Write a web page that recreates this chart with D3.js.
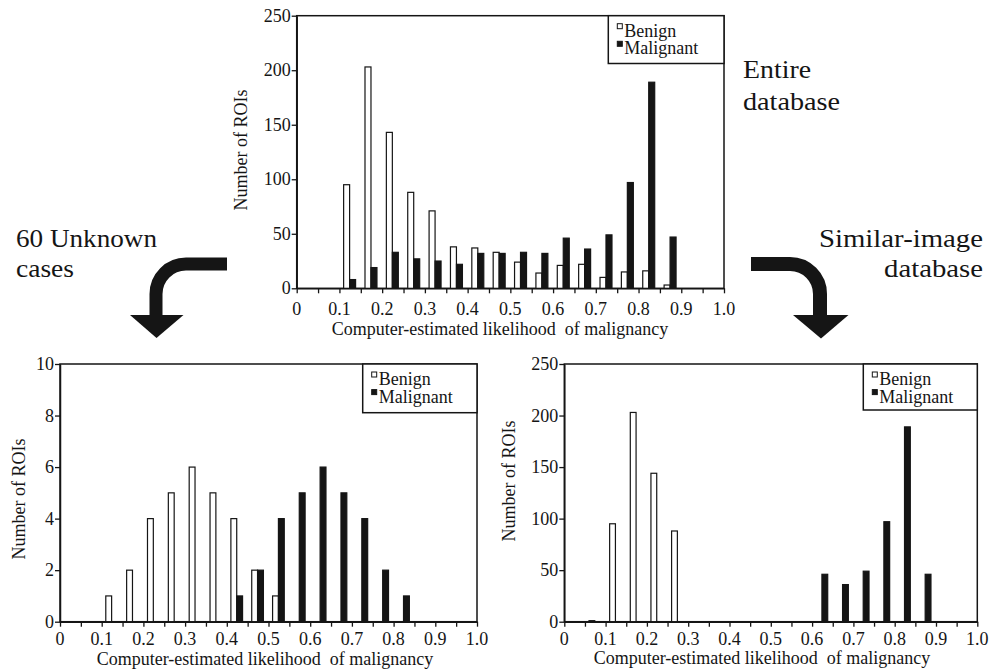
<!DOCTYPE html>
<html><head><meta charset="utf-8"><script src="https://cdn.jsdelivr.net/npm/d3@7/dist/d3.min.js"></script></head>
<body style="margin:0">
<svg id="chart" width="991" height="671"></svg>
<script>
// ---- Data ----
const binCenters = [0.025, 0.075, 0.125, 0.175, 0.225, 0.275, 0.325, 0.375, 0.425, 0.475,
                    0.525, 0.575, 0.625, 0.675, 0.725, 0.775, 0.825, 0.875, 0.925, 0.975];
const xTickValues = [0, 0.05, 0.1, 0.15, 0.2, 0.25, 0.3, 0.35, 0.4, 0.45, 0.5,
                     0.55, 0.6, 0.65, 0.7, 0.75, 0.8, 0.85, 0.9, 0.95, 1.0];
const xTickLabels = ["0", "", "0.1", "", "0.2", "", "0.3", "", "0.4", "", "0.5",
                     "", "0.6", "", "0.7", "", "0.8", "", "0.9", "", "1.0"];
const countTicks = [0, 50, 100, 150, 200, 250];
const unknownTicks = [0, 2, 4, 6, 8, 10];
const seriesNames = ["Benign", "Malignant"];

const entireBenign     = [0, 0, 95, 203, 143, 88, 71, 38, 37, 33, 24, 14, 21, 22, 10, 15, 16, 3, 0, 0];
const entireMalignant  = [0, 0, 8, 19, 33, 27, 25, 22, 32, 32, 33, 32, 46, 36, 49, 97, 189, 47, 0, 0];
const unknownBenign    = [0, 0, 1, 2, 4, 5, 6, 5, 4, 2, 1, 0, 0, 0, 0, 0, 0, 0, 0, 0];
const unknownMalignant = [0, 0, 0, 0, 0, 0, 0, 0, 1, 2, 4, 5, 6, 5, 4, 2, 1, 0, 0, 0];
const similarBenign    = [0, 1, 95, 203, 144, 88, 0, 0, 0, 0, 0, 0, 0, 0, 0, 0, 0, 0, 0, 0];
const similarMalignant = [0, 0, 0, 0, 0, 0, 0, 0, 0, 0, 0, 0, 46, 36, 49, 97, 189, 46, 0, 0];

const xTitle = "Computer-estimated likelihood\u00a0 of malignancy";
const yTitle = "Number of ROIs";

// ---- Layout ----
const FONT = "Liberation Serif";
const ink = "#151515";
const panels = [
  { benign: entireBenign, malignant: entireMalignant, yMax: 250, yTicks: countTicks,
    left: 296.7, right: 724, top: 15.7, bottom: 288.3,
    tickBase: 314.5, titleX: 500, titleBase: 335, yTitleX: 247, yTitleY: 150,
    legLeft: 608.3, legBottom: 63.5 },
  { benign: unknownBenign, malignant: unknownMalignant, yMax: 10, yTicks: unknownTicks,
    left: 60, right: 477, top: 364, bottom: 621.7,
    tickBase: 645, titleX: 265, titleBase: 665, yTitleX: 25, yTitleY: 499,
    legLeft: 362.7, legBottom: 412.7 },
  { benign: similarBenign, malignant: similarMalignant, yMax: 250, yTicks: countTicks,
    left: 564.3, right: 977.3, top: 364, bottom: 621.7,
    tickBase: 645, titleX: 762, titleBase: 664, yTitleX: 515, yTitleY: 481,
    legLeft: 863.3, legBottom: 410 }
];

const svg = d3.select("#chart");

function label(sel, size) {
  return sel.style("font-family", FONT).attr("font-size", size).attr("fill", ink);
}

panels.forEach(p => {
  const x = d3.scaleLinear().domain([0, 1]).range([p.left, p.right]);
  const y = d3.scaleLinear().domain([0, p.yMax]).range([p.bottom, p.top]);
  const g = svg.append("g");
  const barW = x(0.014) - x(0);

  g.append("rect")
    .attr("x", p.left).attr("y", p.top)
    .attr("width", p.right - p.left).attr("height", p.bottom - p.top)
    .attr("fill", "none").attr("stroke", ink).attr("stroke-width", 1.5);

  const rows = binCenters.map((c, i) => ({ c, b: p.benign[i], m: p.malignant[i] }));
  g.selectAll(".ben").data(rows.filter(d => d.b > 0)).join("rect")
    .attr("x", d => x(d.c) - barW - 0.5)
    .attr("y", d => y(d.b))
    .attr("width", barW)
    .attr("height", d => y(0) - y(d.b))
    .attr("fill", "#fff").attr("stroke", ink).attr("stroke-width", 1.2);
  g.selectAll(".mal").data(rows.filter(d => d.m > 0)).join("rect")
    .attr("x", d => x(d.c) - 0.5)
    .attr("y", d => y(d.m))
    .attr("width", barW)
    .attr("height", d => y(0) - y(d.m))
    .attr("fill", ink).attr("stroke", ink).attr("stroke-width", 1.2);

  // x axis: ticks from the axis generator, labels as plain texts
  const xa = g.append("g").attr("transform", `translate(0,${p.bottom})`)
    .call(d3.axisBottom(x).tickValues(xTickValues).tickFormat("").tickSize(5).tickSizeOuter(0));
  xa.select(".domain").attr("stroke", ink).attr("stroke-width", 1.5);
  xa.selectAll(".tick line").attr("stroke", ink).attr("stroke-width", 1.3);
  xa.selectAll(".tick text").remove();
  xTickValues.forEach((v, i) => {
    if (!xTickLabels[i]) return;
    label(g.append("text"), 18).attr("x", x(v)).attr("y", p.tickBase)
      .attr("text-anchor", "middle").text(xTickLabels[i]);
  });

  // y axis
  const ya = g.append("g").attr("transform", `translate(${p.left},0)`)
    .call(d3.axisLeft(y).tickValues(p.yTicks).tickFormat("").tickSize(5).tickSizeOuter(0));
  ya.select(".domain").attr("stroke", ink).attr("stroke-width", 1.5);
  ya.selectAll(".tick line").attr("stroke", ink).attr("stroke-width", 1.3);
  ya.selectAll(".tick text").remove();
  p.yTicks.forEach(v => {
    label(g.append("text"), 18).attr("x", p.left - 6).attr("y", y(v) + 6)
      .attr("text-anchor", "end").text(v);
  });

  // titles
  label(g.append("text"), 18).attr("x", p.titleX).attr("y", p.titleBase)
    .attr("text-anchor", "middle").text(xTitle);
  label(g.append("text"), 18)
    .attr("transform", `translate(${p.yTitleX},${p.yTitleY}) rotate(-90)`)
    .attr("text-anchor", "middle").text(yTitle);

  // legend
  g.append("rect")
    .attr("x", p.legLeft).attr("y", p.top)
    .attr("width", p.right - p.legLeft).attr("height", p.legBottom - p.top)
    .attr("fill", "#fff").attr("stroke", ink).attr("stroke-width", 1.5);
  seriesNames.forEach((name, i) => {
    const base = p.top + 21 + i * 17.6;
    g.append("rect")
      .attr("x", p.legLeft + 9).attr("y", base - 13)
      .attr("width", 5).attr("height", 5)
      .attr("fill", i === 0 ? "#fff" : ink).attr("stroke", ink).attr("stroke-width", 1);
    label(g.append("text"), 18).attr("x", p.legLeft + 16).attr("y", base).text(name);
  });
});

// ---- Annotations ----
const ann = [
  { t: "Entire", x: 743, y: 78, a: "start", w: 68 },
  { t: "database", x: 743, y: 110, a: "start", w: 97 },
  { t: "60 Unknown", x: 16, y: 247, a: "start", w: 141 },
  { t: "cases", x: 16, y: 277, a: "start", w: 58 },
  { t: "Similar-image", x: 983, y: 247, a: "end", w: 164 },
  { t: "database", x: 983, y: 277, a: "end", w: 99 }
];
ann.forEach(d => {
  label(svg.append("text"), 26).attr("x", d.x).attr("y", d.y)
    .attr("text-anchor", d.a)
    .attr("textLength", d.w).attr("lengthAdjust", "spacingAndGlyphs")
    .text(d.t);
});

// curved arrows
svg.append("path")
  .attr("d", "M227,264 L186,264 A30,30 0 0 0 156,294 L156,318")
  .attr("fill", "none").attr("stroke", ink).attr("stroke-width", 13);
svg.append("path")
  .attr("d", "M130,315 L183.5,315 L156.5,338 Z").attr("fill", ink);
svg.append("path")
  .attr("d", "M751,264 L790,264 A30,30 0 0 1 820,294 L820,318")
  .attr("fill", "none").attr("stroke", ink).attr("stroke-width", 14);
svg.append("path")
  .attr("d", "M793,315 L848.5,315 L821,338.5 Z").attr("fill", ink);
</script>
</body></html>
